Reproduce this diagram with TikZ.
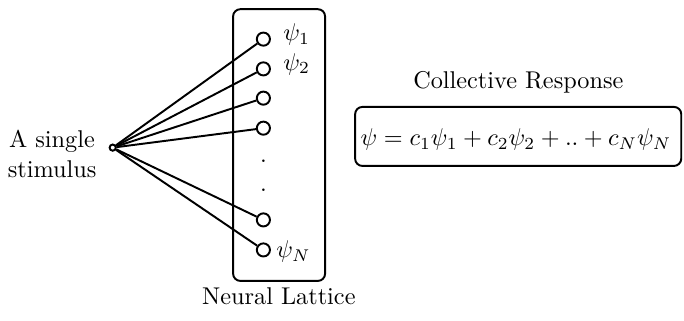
\documentclass[tikz,border=0pt]{standalone}
\usetikzlibrary{positioning}
\tikzset{
	neuron/.style={circle, draw, thick, minimum size=0.19cm, inner sep=0pt},
	lattice/.style={draw, thick, rounded corners=3pt},
}
\begin{document}
\begin{tikzpicture}
	\useasboundingbox (0,0) rectangle (9.91,4.65);
	\node[circle, draw, thick, minimum size=0.09cm, inner sep=0pt] (s) at (1.633,2.511) {};
	\node[align=center] (stext) at (0.754,2.42) {A single\\stimulus};
	\draw[lattice] (3.377,0.580) rectangle (4.710,4.517);
	\node[neuron] (n1) at (3.816,4.083) {};
	\node[neuron] (n2) at (3.816,3.652) {};
	\node[neuron] (n3) at (3.816,3.228) {};
	\node[neuron] (n4) at (3.816,2.793) {};
	\node[neuron] (n5) at (3.816,1.464) {};
	\node[neuron] (n6) at (3.816,1.029) {};
	\node at (3.816,2.319) {.};
	\node at (3.816,1.899) {.};
	\foreach \i in {1,...,6}
		\draw[thick] (s) -- (n\i);
	\node[anchor=west] at (3.98,4.15) {$\psi_1$};
	\node[anchor=west] at (3.98,3.72) {$\psi_2$};
	\node[anchor=west] at (3.88,1.00) {$\psi_N$};
	\node (lat) at (4.04,0.362) {Neural Lattice};
	\node (cr) at (7.51,3.46) {Collective Response};
	\draw[lattice] (5.145,2.246) rectangle (9.870,3.101);
	\node[anchor=west, inner sep=0pt] (eq) at (5.217,2.623) {$\psi=c_1\psi_1+c_2\psi_2+..+c_N\psi_N$};
\end{tikzpicture}
\end{document}
